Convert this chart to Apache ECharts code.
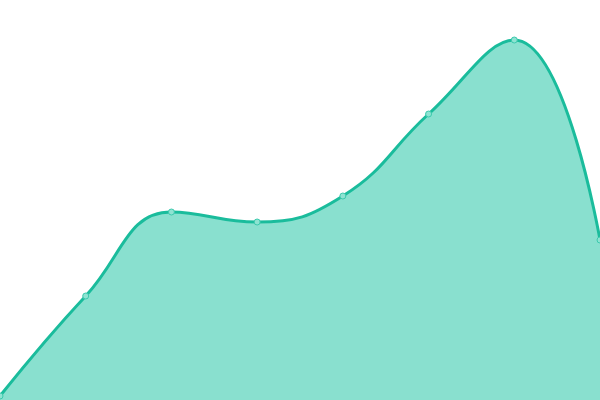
<!DOCTYPE html>
<html>
<head>
<meta charset="utf-8">
<script src="https://cdn.jsdelivr.net/npm/echarts@6/dist/echarts.min.js"></script>
<style>
  html, body { margin: 0; padding: 0; background: #fff; }
  #main { width: 600px; height: 400px; }
</style>
</head>
<body>
<div id="main"></div>
<script>
var categories = ['1', '2', '3', '4', '5', '6', '7', '8'];
var values = [1, 26, 47, 44.5, 51, 71.5, 90, 40];

var chart = echarts.init(document.getElementById('main'));
chart.setOption({
    animation: false,
    grid: { left: 0, right: 0, top: 0, bottom: 0 },
    xAxis: {
        type: 'category',
        data: categories,
        boundaryGap: false,
        show: false
    },
    yAxis: {
        type: 'value',
        min: 0,
        max: 100,
        show: false
    },
    series: [{
        type: 'line',
        data: values,
        smooth: 0.45,
        symbol: 'circle',
        symbolSize: 6,
        lineStyle: { color: '#1abc9c', width: 3 },
        itemStyle: { color: '#8ee3d2', borderColor: '#3cc9ad', borderWidth: 1 },
        areaStyle: { color: '#89e0cf', opacity: 1 }
    }]
});
</script>
</body>
</html>
